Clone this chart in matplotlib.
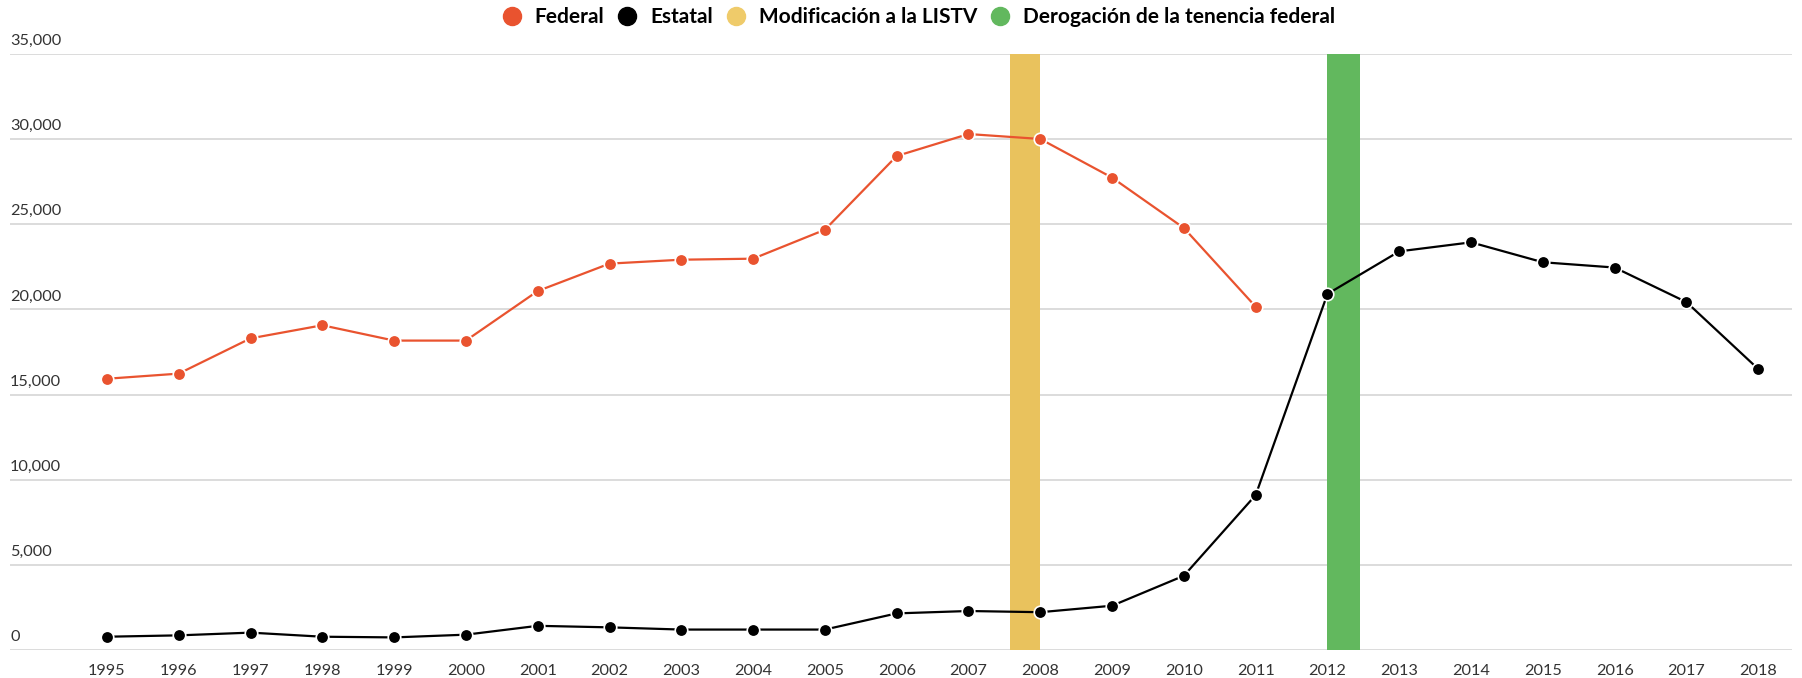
import matplotlib.pyplot as plt
from matplotlib.lines import Line2D

# data
years = list(range(1995, 2019))
federal = [15930, 16230, 18300, 19070, 18170, 18170, 21080, 22690, 22920, 22980,
           24680, 29010, 30300, 30010, 27740, 24780, 20160]
estatal = [780, 860, 1020, 780, 740, 900, 1420, 1330, 1200, 1200,
           1200, 2150, 2290, 2220, 2600, 4360, 9100, 20910, 23410, 23940,
           22770, 22460, 20430, 16500]
band_listv = (2007.58, 2008.0)
band_tenencia = (2012.0, 2012.45)
yticks = [0, 5000, 10000, 15000, 20000, 25000, 30000, 35000]

c_fed = "#E9532F"
c_est = "#000000"
c_yel = "#E9C25D"
c_grn = "#62B85E"

plt.rcParams['font.family'] = ['Lato', 'DejaVu Sans']

fig = plt.figure(figsize=(18.02, 6.78), dpi=100)
ax = fig.add_axes([10 / 1802, 28 / 678, 1782 / 1802, 596 / 678])

ax.set_xlim(1995 - 1.35, 2018 + 0.47)
ax.set_ylim(0, 35000)

# gridlines and y labels sitting on top of them
for v in yticks:
    ax.axhline(v, color="#d6d6d6", lw=1.2, zorder=1)
    ax.text(1995 - 1.35, v + 350, f"{v:,}", fontsize=11.7, color="#333333",
            ha="left", va="bottom", zorder=6)

ax.axvspan(*band_listv, color=c_yel, zorder=2, lw=0)
ax.axvspan(*band_tenencia, color=c_grn, zorder=2, lw=0)

fy = years[:len(federal)]
ax.plot(fy, federal, color=c_fed, lw=1.6, marker="o", ms=9, mfc=c_fed, mec="white",
        mew=1.2, zorder=4)
ax.plot(years, estatal, color=c_est, lw=1.6, marker="o", ms=9, mfc=c_est, mec="white",
        mew=1.2, zorder=4)

ax.set_xticks(years)
ax.set_xticklabels([str(y) for y in years], fontsize=11.7, color="#333333")
ax.tick_params(axis="x", length=0, pad=10)
ax.set_yticks([])
for s in ax.spines.values():
    s.set_visible(False)

handles = [
    Line2D([], [], ls="none", marker="o", ms=13, mfc=c_fed, mec=c_fed),
    Line2D([], [], ls="none", marker="o", ms=13, mfc=c_est, mec=c_est),
    Line2D([], [], ls="none", marker="o", ms=13, mfc="#EFCB6A", mec="#EFCB6A"),
    Line2D([], [], ls="none", marker="o", ms=13, mfc=c_grn, mec=c_grn),
]
labels = ["Federal", "Estatal", "Modificación a la LISTV", "Derogación de la tenencia federal"]
fig.legend(handles, labels, loc="center", bbox_to_anchor=(918 / 1802, 1 - 17 / 678), ncol=4,
           frameon=False, prop={"size": 15, "weight": "bold"}, handletextpad=0.6,
           columnspacing=0.6, handlelength=1.0)

fig.savefig("out.png", dpi=100, facecolor="white")
